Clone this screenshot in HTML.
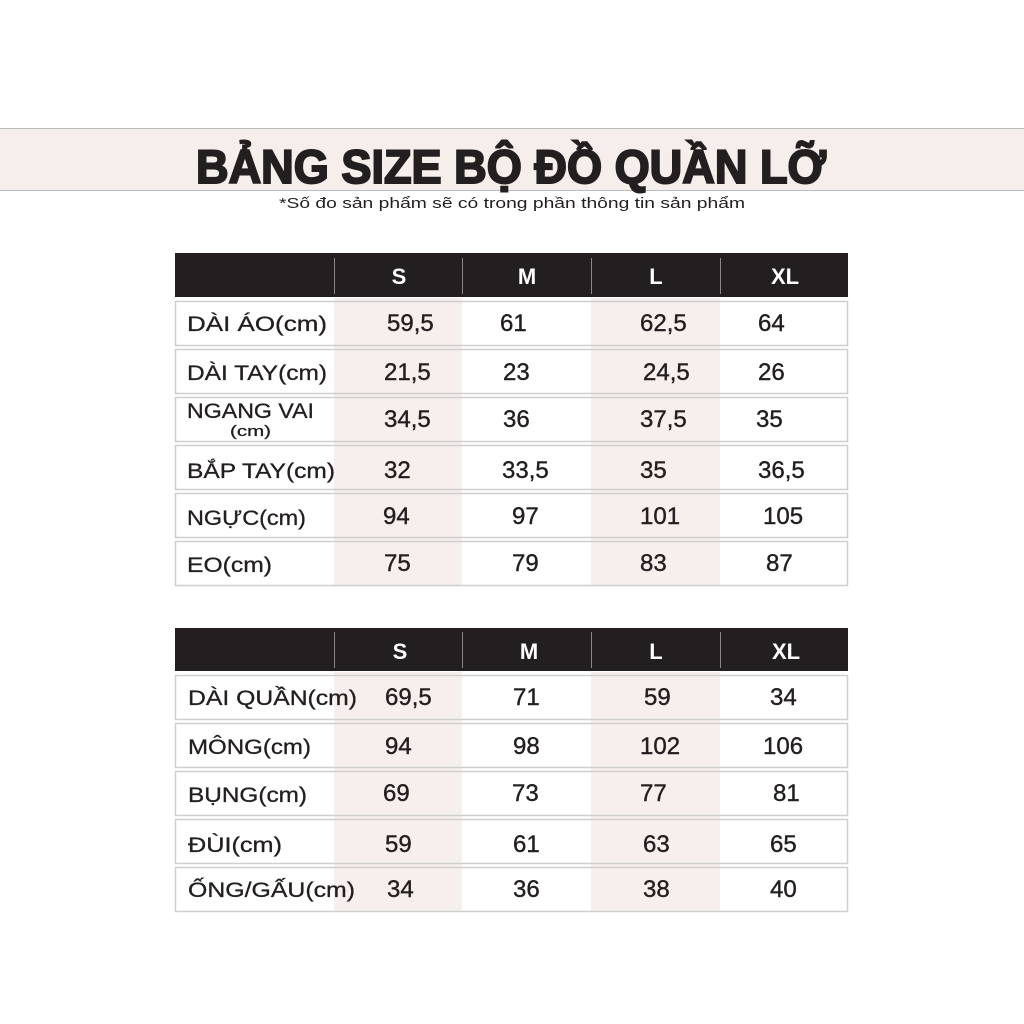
<!DOCTYPE html>
<html><head><meta charset="utf-8"><style>
html,body{margin:0;padding:0;background:#fff;width:1024px;height:1024px;overflow:hidden}
svg{display:block}
text{font-family:"Liberation Sans",sans-serif;fill:#231f20}
.v text{stroke:#231f20;stroke-width:0.4}
.l text{stroke:#231f20;stroke-width:0.3}
</style></head><body>
<svg width="1024" height="1024" viewBox="0 0 1024 1024" xmlns="http://www.w3.org/2000/svg">
<rect x="0" y="128" width="1024" height="62" fill="#f6eeea"/>
<line x1="0" y1="128.5" x2="1024" y2="128.5" stroke="#bbb"/>
<line x1="0" y1="190.5" x2="1024" y2="190.5" stroke="#bbb"/>
<text x="196" y="183" font-size="47" font-weight="bold" textLength="630" lengthAdjust="spacingAndGlyphs" stroke="#231f20" stroke-width="2">BẢNG SIZE BỘ ĐỒ QUẦN LỠ</text>
<text x="279" y="208" font-size="15" textLength="466" lengthAdjust="spacingAndGlyphs">*Số đo sản phẩm sẽ có trong phần thông tin sản phẩm</text>

<!-- Table 1 -->
<rect x="334" y="298" width="128" height="288" fill="#f7efec"/>
<rect x="591" y="298" width="129" height="288" fill="#f7efec"/>
<rect x="175" y="253" width="673" height="44" fill="#231f20"/>
<g stroke="#888" stroke-width="1"><line x1="334.5" y1="258" x2="334.5" y2="294"/><line x1="462.5" y1="258" x2="462.5" y2="294"/><line x1="591.5" y1="258" x2="591.5" y2="294"/><line x1="720.5" y1="258" x2="720.5" y2="294"/></g>
<g font-size="22" font-weight="bold"><text x="399" y="284" text-anchor="middle" style="fill:#fff">S</text><text x="527" y="284" text-anchor="middle" style="fill:#fff">M</text><text x="656" y="284" text-anchor="middle" style="fill:#fff">L</text><text x="785" y="284" text-anchor="middle" style="fill:#fff">XL</text></g>
<g fill="none" stroke="#cfcfcf" stroke-width="1.5">
<rect x="175.5" y="301.5" width="672" height="44"/><rect x="175.5" y="349.5" width="672" height="44"/><rect x="175.5" y="397.5" width="672" height="44"/><rect x="175.5" y="445.5" width="672" height="44"/><rect x="175.5" y="493.5" width="672" height="44"/><rect x="175.5" y="541.5" width="672" height="44"/>
</g>
<g class="l" font-size="21">
<text x="187" y="331" textLength="140" lengthAdjust="spacingAndGlyphs">DÀI ÁO(cm)</text>
<text x="187" y="380" textLength="140" lengthAdjust="spacingAndGlyphs">DÀI TAY(cm)</text>
<text x="187" y="418" textLength="127" lengthAdjust="spacingAndGlyphs">NGANG VAI</text>
<text x="230" y="436" font-size="15" textLength="41" lengthAdjust="spacingAndGlyphs">(cm)</text>
<text x="187" y="478" textLength="148" lengthAdjust="spacingAndGlyphs">BẮP TAY(cm)</text>
<text x="187" y="525" textLength="119" lengthAdjust="spacingAndGlyphs">NGỰC(cm)</text>
<text x="187" y="572" textLength="85" lengthAdjust="spacingAndGlyphs">EO(cm)</text>
</g>
<g class="v" font-size="24">
<text x="387" y="331">59,5</text><text x="500" y="331">61</text><text x="640" y="331">62,5</text><text x="758" y="331">64</text>
<text x="384" y="380">21,5</text><text x="503" y="380">23</text><text x="643" y="380">24,5</text><text x="758" y="380">26</text>
<text x="384" y="427">34,5</text><text x="503" y="427">36</text><text x="640" y="427">37,5</text><text x="756" y="427">35</text>
<text x="384" y="478">32</text><text x="502" y="478">33,5</text><text x="640" y="478">35</text><text x="758" y="478">36,5</text>
<text x="383" y="524">94</text><text x="512" y="524">97</text><text x="640" y="524">101</text><text x="763" y="524">105</text>
<text x="384" y="571">75</text><text x="512" y="571">79</text><text x="640" y="571">83</text><text x="766" y="571">87</text>
</g>

<!-- Table 2 -->
<rect x="334" y="672" width="128" height="240" fill="#f7efec"/>
<rect x="591" y="672" width="129" height="240" fill="#f7efec"/>
<rect x="175" y="628" width="673" height="43" fill="#231f20"/>
<g stroke="#888" stroke-width="1"><line x1="334.5" y1="632" x2="334.5" y2="668"/><line x1="462.5" y1="632" x2="462.5" y2="668"/><line x1="591.5" y1="632" x2="591.5" y2="668"/><line x1="720.5" y1="632" x2="720.5" y2="668"/></g>
<g font-size="22" font-weight="bold"><text x="400" y="659" text-anchor="middle" style="fill:#fff">S</text><text x="529" y="659" text-anchor="middle" style="fill:#fff">M</text><text x="656" y="659" text-anchor="middle" style="fill:#fff">L</text><text x="786" y="659" text-anchor="middle" style="fill:#fff">XL</text></g>
<g fill="none" stroke="#cfcfcf" stroke-width="1.5">
<rect x="175.5" y="675.5" width="672" height="44"/><rect x="175.5" y="723.5" width="672" height="44"/><rect x="175.5" y="771.5" width="672" height="44"/><rect x="175.5" y="819.5" width="672" height="44"/><rect x="175.5" y="867.5" width="672" height="44"/>
</g>
<g class="l" font-size="21">
<text x="188" y="705" textLength="169" lengthAdjust="spacingAndGlyphs">DÀI QUẦN(cm)</text>
<text x="188" y="754" textLength="123" lengthAdjust="spacingAndGlyphs">MÔNG(cm)</text>
<text x="188" y="802" textLength="119" lengthAdjust="spacingAndGlyphs">BỤNG(cm)</text>
<text x="188" y="852" textLength="94" lengthAdjust="spacingAndGlyphs">ĐÙI(cm)</text>
<text x="188" y="897" textLength="167" lengthAdjust="spacingAndGlyphs">ỐNG/GẤU(cm)</text>
</g>
<g class="v" font-size="24">
<text x="385" y="705">69,5</text><text x="513" y="705">71</text><text x="644" y="705">59</text><text x="770" y="705">34</text>
<text x="385" y="754">94</text><text x="513" y="754">98</text><text x="640" y="754">102</text><text x="763" y="754">106</text>
<text x="383" y="801">69</text><text x="512" y="801">73</text><text x="640" y="801">77</text><text x="773" y="801">81</text>
<text x="385" y="852">59</text><text x="513" y="852">61</text><text x="643" y="852">63</text><text x="770" y="852">65</text>
<text x="387" y="897">34</text><text x="513" y="897">36</text><text x="643" y="897">38</text><text x="770" y="897">40</text>
</g>
</svg>
</body></html>
